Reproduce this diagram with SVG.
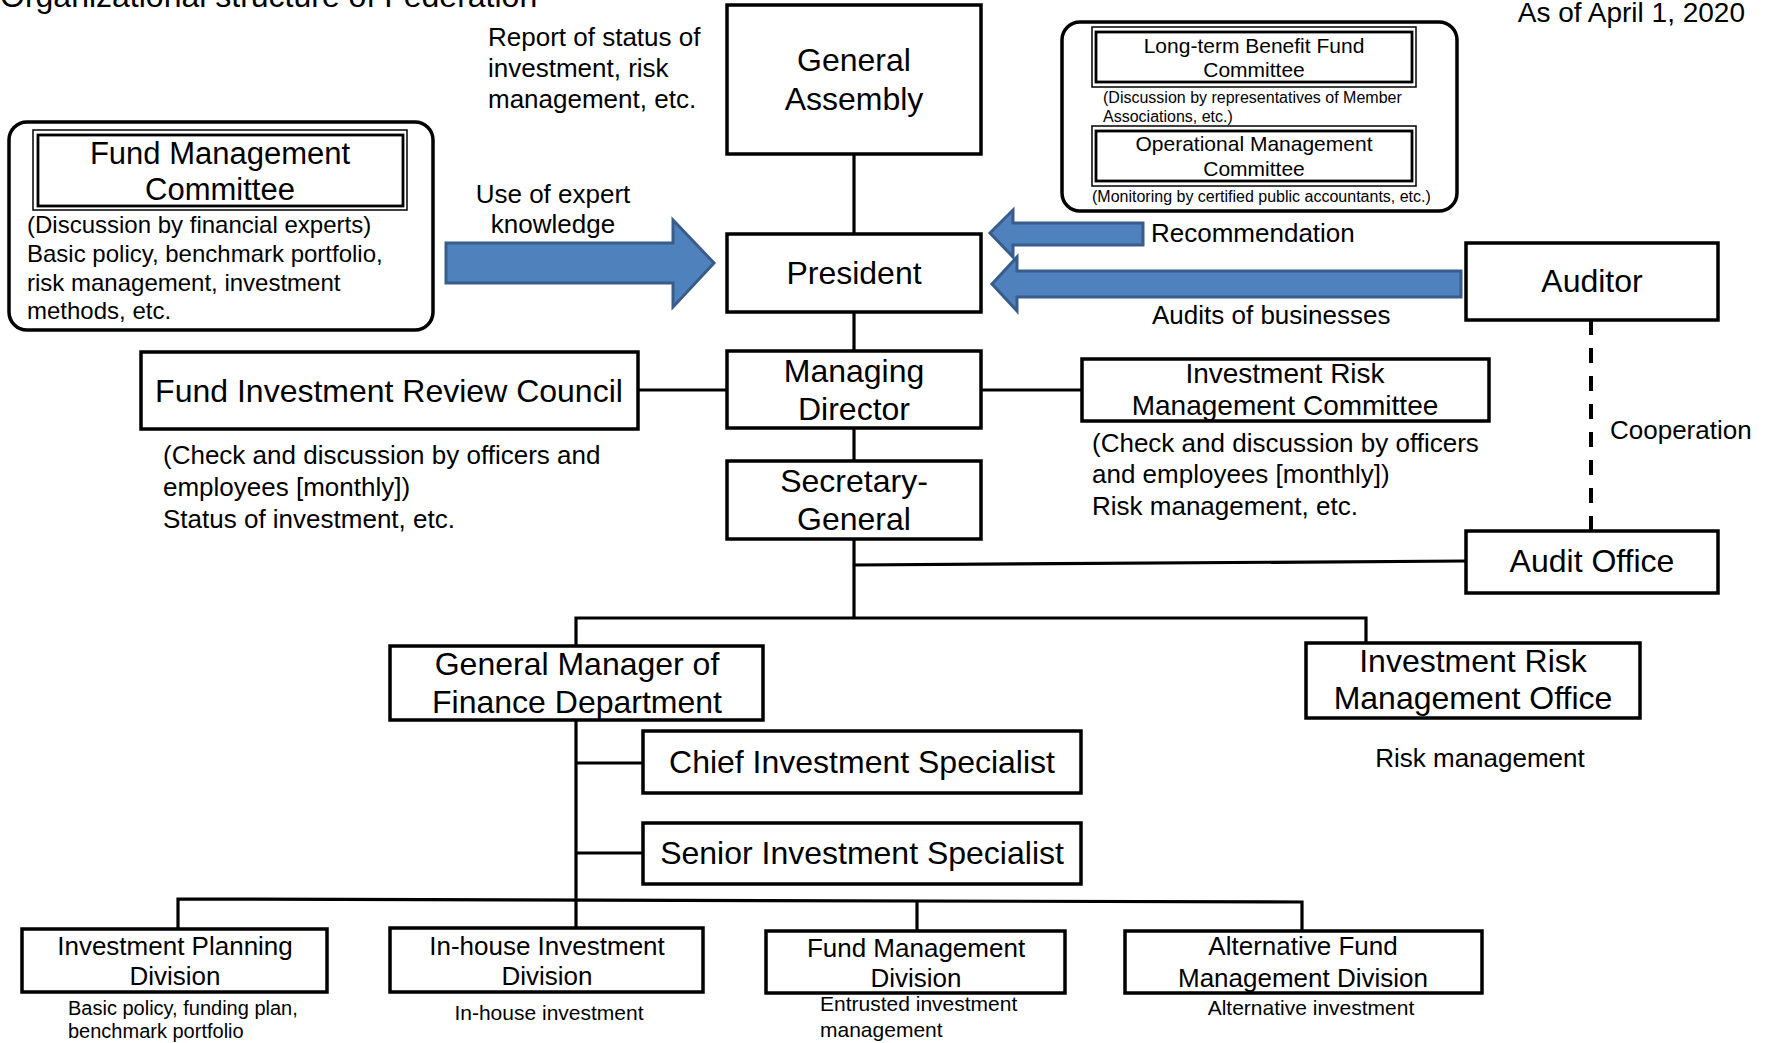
<svg xmlns="http://www.w3.org/2000/svg" width="1769" height="1043" viewBox="0 0 1769 1043">
<style>
text{font-family:"Liberation Sans",Arial,sans-serif;fill:#000}
.box{fill:#fff;stroke:#000;stroke-width:3.5}
.rbox{fill:#fff;stroke:#000;stroke-width:3.5}
.dbo{fill:#fff;stroke:#000;stroke-width:1.5}
.dbi{fill:none;stroke:#000;stroke-width:2.8}
.arr{fill:#4F81BD;stroke:#385D8A;stroke-width:3}
.ln{stroke:#000;stroke-width:3.2;fill:none}
.dash{stroke:#000;stroke-width:4;fill:none;stroke-dasharray:15 13}
.c{text-anchor:middle}
.s32{font-size:32px}
.s31{font-size:31px}
.s28{font-size:28px}
.s26{font-size:26px}
.s24{font-size:24px}
.s21{font-size:21px}
.s20{font-size:20px}
.s16{font-size:16px}
</style>
<rect width="1769" height="1043" fill="#fff"/>

<g id="labels">
<text class="s32" x="0" y="7">Organizational structure of Federation</text>
<text class="s28" x="1745" y="22" text-anchor="end">As of April 1, 2020</text>
<text class="s26" x="488" y="46">Report of status of</text>
<text class="s26" x="488" y="77">investment, risk</text>
<text class="s26" x="488" y="108">management, etc.</text>
<text class="s26 c" x="553" y="203">Use of expert</text>
<text class="s26 c" x="553" y="233">knowledge</text>
<text class="s26" x="1151" y="242">Recommendation</text>
<text class="s26" x="1152" y="324">Audits of businesses</text>
<text class="s26" x="1610" y="439">Cooperation</text>
</g>

<g id="connectors">
<line class="ln" x1="854" y1="154" x2="854" y2="234"/>
<line class="ln" x1="854" y1="312" x2="854" y2="351"/>
<line class="ln" x1="638" y1="390" x2="727" y2="390"/>
<line class="ln" x1="981" y1="390" x2="1082" y2="390"/>
<line class="ln" x1="854" y1="428" x2="854" y2="461"/>
<line class="ln" x1="854" y1="539" x2="854" y2="618"/>
<line class="ln" x1="854" y1="565" x2="1466" y2="561"/>
<polyline class="ln" points="576,646 576,618 1366,618 1366,643"/>
<line class="ln" x1="576" y1="720" x2="576" y2="928"/>
<line class="ln" x1="576" y1="763" x2="643" y2="763"/>
<line class="ln" x1="576" y1="853" x2="643" y2="853"/>
<polyline class="ln" points="178,929 178,899 1302,902 1302,931"/>
<line class="ln" x1="917" y1="901" x2="917" y2="931"/>
<line class="dash" x1="1591" y1="320" x2="1591" y2="531"/>
<polygon class="arr" points="446,243 673,243 673,220 714,263 673,307 673,283 446,283"/>
<polygon class="arr" points="1143,223 1013,223 1013,210 990,233 1013,257 1013,245 1143,245"/>
<polygon class="arr" points="1461,271 1017,271 1017,257 992,284 1017,311 1017,297 1461,297"/>
</g>

<g id="general-assembly">
<rect class="box" x="727" y="5" width="254" height="149"/>
<text class="s32 c" x="854" y="71">General</text>
<text class="s32 c" x="854" y="110">Assembly</text>
</g>

<g id="fund-management-committee">
<rect class="rbox" x="9" y="122" width="424" height="208" rx="18"/>
<rect class="dbo" x="33" y="130" width="374" height="80"/>
<rect class="dbi" x="38" y="135" width="365" height="71"/>
<text class="s31 c" x="220" y="164">Fund Management</text>
<text class="s31 c" x="220" y="200">Committee</text>
<text class="s24" x="27" y="233">(Discussion by financial experts)</text>
<text class="s24" x="27" y="262">Basic policy, benchmark portfolio,</text>
<text class="s24" x="27" y="291">risk management, investment</text>
<text class="s24" x="27" y="319">methods, etc.</text>
</g>

<g id="president">
<rect class="box" x="727" y="234" width="254" height="78"/>
<text class="s32 c" x="854" y="284">President</text>
</g>

<g id="committees">
<rect class="rbox" x="1062" y="22" width="395" height="189" rx="18"/>
<g id="long-term-benefit-fund-committee">
<rect class="dbo" x="1092" y="27" width="324" height="60"/>
<rect class="dbi" x="1096" y="32" width="316" height="50"/>
<text class="s21 c" x="1254" y="53">Long-term Benefit Fund</text>
<text class="s21 c" x="1254" y="77">Committee</text>
<text class="s16" x="1103" y="103">(Discussion by representatives of Member</text>
<text class="s16" x="1103" y="122">Associations, etc.)</text>
</g>
<g id="operational-management-committee">
<rect class="dbo" x="1092" y="126" width="324" height="60"/>
<rect class="dbi" x="1096" y="131" width="316" height="50"/>
<text class="s21 c" x="1254" y="151">Operational Management</text>
<text class="s21 c" x="1254" y="176">Committee</text>
<text class="s16" x="1092" y="202">(Monitoring by certified public accountants, etc.)</text>
</g>
</g>

<g id="auditor">
<rect class="box" x="1466" y="243" width="252" height="77"/>
<text class="s32 c" x="1592" y="292">Auditor</text>
</g>

<g id="fund-investment-review-council">
<rect class="box" x="141" y="352" width="497" height="77"/>
<text class="s32 c" x="389" y="402">Fund Investment Review Council</text>
<text class="s26" x="163" y="464">(Check and discussion by officers and</text>
<text class="s26" x="163" y="496">employees [monthly])</text>
<text class="s26" x="163" y="528">Status of investment, etc.</text>
</g>

<g id="managing-director">
<rect class="box" x="727" y="351" width="254" height="77"/>
<text class="s32 c" x="854" y="382">Managing</text>
<text class="s32 c" x="854" y="420">Director</text>
</g>

<g id="investment-risk-management-committee">
<rect class="box" x="1082" y="359" width="407" height="62"/>
<text class="s28 c" x="1285" y="383">Investment Risk</text>
<text class="s28 c" x="1285" y="415">Management Committee</text>
<text class="s26" x="1092" y="452">(Check and discussion by officers</text>
<text class="s26" x="1092" y="483">and employees [monthly])</text>
<text class="s26" x="1092" y="515">Risk management, etc.</text>
</g>

<g id="secretary-general">
<rect class="box" x="727" y="461" width="254" height="78"/>
<text class="s32 c" x="854" y="492">Secretary-</text>
<text class="s32 c" x="854" y="530">General</text>
</g>

<g id="audit-office">
<rect class="box" x="1466" y="531" width="252" height="62"/>
<text class="s32 c" x="1592" y="572">Audit Office</text>
</g>

<g id="general-manager-finance">
<rect class="box" x="390" y="646" width="373" height="74"/>
<text class="s32 c" x="577" y="675">General Manager of</text>
<text class="s32 c" x="577" y="713">Finance Department</text>
</g>

<g id="investment-risk-management-office">
<rect class="box" x="1306" y="643" width="334" height="75"/>
<text class="s32 c" x="1473" y="672">Investment Risk</text>
<text class="s32 c" x="1473" y="709">Management Office</text>
<text class="s26 c" x="1480" y="767">Risk management</text>
</g>

<g id="chief-investment-specialist">
<rect class="box" x="643" y="731" width="438" height="62"/>
<text class="s32 c" x="862" y="773">Chief Investment Specialist</text>
</g>

<g id="senior-investment-specialist">
<rect class="box" x="643" y="823" width="438" height="61"/>
<text class="s32 c" x="862" y="864">Senior Investment Specialist</text>
</g>

<g id="investment-planning-division">
<rect class="box" x="22" y="929" width="305" height="63"/>
<text class="s26 c" x="175" y="955">Investment Planning</text>
<text class="s26 c" x="175" y="985">Division</text>
<text class="s20" x="68" y="1015">Basic policy, funding plan,</text>
<text class="s20" x="68" y="1038">benchmark portfolio</text>
</g>

<g id="in-house-investment-division">
<rect class="box" x="390" y="928" width="313" height="64"/>
<text class="s26 c" x="547" y="955">In-house Investment</text>
<text class="s26 c" x="547" y="985">Division</text>
<text class="s21 c" x="549" y="1020">In-house investment</text>
</g>

<g id="fund-management-division">
<rect class="box" x="766" y="931" width="299" height="62"/>
<text class="s26 c" x="916" y="957">Fund Management</text>
<text class="s26 c" x="916" y="987">Division</text>
<text class="s21" x="820" y="1011">Entrusted investment</text>
<text class="s21" x="820" y="1037">management</text>
</g>

<g id="alternative-fund-management-division">
<rect class="box" x="1125" y="931" width="357" height="62"/>
<text class="s26 c" x="1303" y="955">Alternative Fund</text>
<text class="s26 c" x="1303" y="987">Management Division</text>
<text class="s21 c" x="1311" y="1015">Alternative investment</text>
</g>
</svg>
